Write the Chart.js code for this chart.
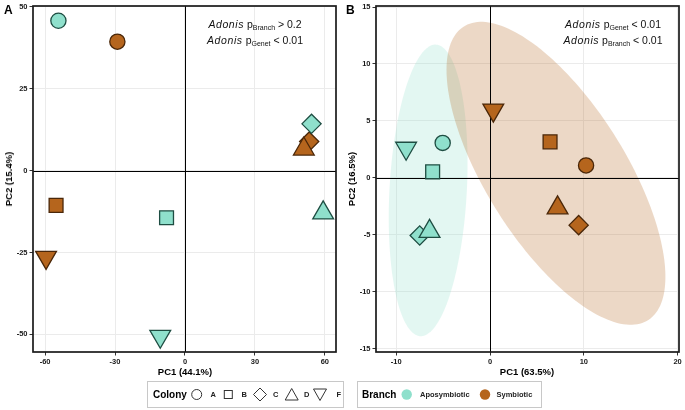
<!DOCTYPE html>
<html><head><meta charset="utf-8">
<script src="https://cdn.jsdelivr.net/npm/chart.js@4.4.1/dist/chart.umd.min.js"></script>
<style>
html,body{margin:0;padding:0;background:#fff;}
body{width:685px;height:410px;position:relative;overflow:hidden;font-family:"Liberation Sans",Arial,Helvetica,sans-serif;color:#000;}
canvas{position:absolute;top:0;}
#ca{left:0;}
#cb{left:340px;}
.abs{position:absolute;white-space:nowrap;}
.panel{font-weight:bold;font-size:12px;line-height:14px;}
.ann{font-size:10.5px;line-height:16px;transform:translateX(-50%);text-align:center;color:#111;}
.ann i{letter-spacing:0.6px;}
.ann sub{font-size:7px;vertical-align:-2px;line-height:0;}
.xt{font-weight:bold;font-size:9.5px;line-height:12px;transform:translateX(-50%);}
.yt{font-weight:bold;font-size:9.5px;line-height:12px;transform:translate(-50%,-50%) rotate(-90deg);}
.box{position:absolute;border:1px solid #c8c8c8;box-sizing:border-box;}
.lt{position:absolute;font-weight:bold;font-size:10px;line-height:12px;transform:translateY(-50%);}
.ls{position:absolute;font-weight:bold;font-size:7.5px;line-height:10px;transform:translateY(-50%);color:#222;}
svg.ico{position:absolute;overflow:visible;}
</style>
</head><body>
<canvas id="ca" width="340" height="385"></canvas>
<canvas id="cb" width="345" height="385"></canvas>

<div class="abs panel" style="left:4px;top:3px;">A</div>
<div class="abs panel" style="left:346px;top:3px;">B</div>

<div class="abs ann" style="left:255px;top:16px;"><i>Adonis</i> p<sub>Branch</sub> &gt; 0.2</div>
<div class="abs ann" style="left:255px;top:32px;"><i>Adonis</i> p<sub>Genet</sub> &lt; 0.01</div>
<div class="abs ann" style="left:613px;top:16px;"><i>Adonis</i> p<sub>Genet</sub> &lt; 0.01</div>
<div class="abs ann" style="left:613px;top:32px;"><i>Adonis</i> p<sub>Branch</sub> &lt; 0.01</div>

<div class="abs xt" style="left:185px;top:366px;">PC1 (44.1%)</div>
<div class="abs xt" style="left:527px;top:366px;">PC1 (63.5%)</div>
<div class="abs yt" style="left:8.5px;top:179px;">PC2 (15.4%)</div>
<div class="abs yt" style="left:352px;top:179px;">PC2 (16.5%)</div>

<div class="box" style="left:147px;top:381px;width:197px;height:27px;"></div>
<div class="lt" style="left:153px;top:394.5px;">Colony</div>
<svg class="ico" style="left:0;top:0;" width="685" height="410">
  <g fill="none" stroke="#333" stroke-width="1">
    <circle cx="196.7" cy="394.5" r="5"/>
    <rect x="224.3" y="390.5" width="8" height="8"/>
    <polygon points="260,388 266.5,394.5 260,401 253.5,394.5"/>
    <polygon points="291.7,388.5 298.2,400 285.2,400"/>
    <polygon points="320,400.5 326.5,389 313.5,389"/>
  </g>
  <circle cx="406.7" cy="394.5" r="5.2" fill="#8FE0CC"/>
  <circle cx="485" cy="394.5" r="5.2" fill="#B5651D"/>
</svg>
<div class="ls" style="left:210.5px;top:394.5px;">A</div>
<div class="ls" style="left:241.5px;top:394.5px;">B</div>
<div class="ls" style="left:273px;top:394.5px;">C</div>
<div class="ls" style="left:304px;top:394.5px;">D</div>
<div class="ls" style="left:336.5px;top:394.5px;">F</div>

<div class="box" style="left:357px;top:381px;width:185px;height:27px;"></div>
<div class="lt" style="left:362px;top:394.5px;">Branch</div>
<div class="ls" style="left:420px;top:394.5px;">Aposymbiotic</div>
<div class="ls" style="left:496.5px;top:394.5px;">Symbiotic</div>

<script>
// ---------------- DATA ----------------
const colonies = ['A', 'B', 'C', 'D', 'F'];
const branches = ['Aposymbiotic', 'Symbiotic'];

// Panel A : PC1 (44.1%) vs PC2 (15.4%)
const aPC1Apo = [-54.3, -7.9, 54.3, 59.3, -10.6];
const aPC2Apo = [45.8, -14.4, 14.3, -12.9, -50.6];
const aPC1Sym = [-29.0, -55.3, 53.3, 51.0, -59.6];
const aPC2Sym = [39.4, -10.6, 8.9, 6.6, -26.5];
const aXTicks = [-60, -30, 0, 30, 60];
const aYTicks = [-50, -25, 0, 25, 50];

// Panel B : PC1 (63.5%) vs PC2 (16.5%)
const bPC1Apo = [-5.05, -6.12, -7.5, -6.45, -8.95];
const bPC2Apo = [3.07, 0.53, -5.06, -4.7, 2.6];
const bPC1Sym = [10.24, 6.4, 9.45, 7.2, 0.35];
const bPC2Sym = [1.09, 3.16, -4.15, -2.63, 5.95];
const bXTicks = [-10, 0, 10, 20];
const bYTicks = [-15, -10, -5, 0, 5, 10, 15];

// Branch ellipses in panel B: [centre PC1, centre PC2, spread PC1, spread PC2, covariance]
const bEllipseApo = [-6.6, -1.1, 4.2, 12.8, 10.0];
const bEllipseSym = [7.03, 0.4, 11.67, 13.3, -106];

// ---------------- STYLE ----------------
const FONT = '"Liberation Sans", Arial, Helvetica, sans-serif';
const fillCol = { Aposymbiotic: '#8FE0CC', Symbiotic: '#B5651D' };
const edgeCol = { Aposymbiotic: '#1E4D42', Symbiotic: '#4A2709' };
const ellCol = { Aposymbiotic: 'rgba(143,224,204,0.25)', Symbiotic: 'rgba(181,101,29,0.25)' };
const shapeStyle = { A: 'circle', B: 'rect', C: 'rectRot', D: 'triangle', F: 'triangle' };
const shapeRot = { A: 0, B: 0, C: 0, D: 0, F: 180 };
const shapeRad = { A: 7.6, B: 9.8, C: 9.6, D: 12, F: 12 };

function pts(xs, ys) { return xs.map((x, i) => ({ x: x, y: ys[i] })); }

function dataset(branch, xs, ys) {
  return {
    label: branch,
    data: pts(xs, ys),
    pointStyle: colonies.map(c => shapeStyle[c]),
    rotation: colonies.map(c => shapeRot[c]),
    pointRadius: colonies.map(c => shapeRad[c]),
    pointHoverRadius: colonies.map(c => shapeRad[c]),
    backgroundColor: fillCol[branch],
    borderColor: edgeCol[branch],
    borderWidth: 1.3,
    showLine: false
  };
}

const decoPlugin = {
  id: 'deco',
  beforeDatasetsDraw(chart, args, opts) {
    const { ctx, chartArea: a, scales: { x, y } } = chart;
    ctx.save();
    ctx.beginPath();
    ctx.rect(a.left, a.top, a.right - a.left, a.bottom - a.top);
    ctx.clip();
    (opts.ellipses || []).forEach(e => {
      const p = e.params;
      const [cx, cy, sx, sy, cv] = p;
      const k = cv / sx;
      const m = Math.sqrt(Math.max(sy * sy - k * k, 0));
      ctx.beginPath();
      const N = 180;
      for (let i = 0; i <= N; i++) {
        const t = i / N * Math.PI * 2;
        const vx = cx + sx * Math.cos(t);
        const vy = cy + k * Math.cos(t) + m * Math.sin(t);
        const px = x.getPixelForValue(vx), py = y.getPixelForValue(vy);
        if (i === 0) ctx.moveTo(px, py); else ctx.lineTo(px, py);
      }
      ctx.closePath();
      ctx.fillStyle = e.color;
      ctx.fill();
    });
    // zero lines
    ctx.strokeStyle = '#000';
    ctx.lineWidth = 1;
    const x0 = Math.round(x.getPixelForValue(0)) + 0.5;
    const y0 = Math.round(y.getPixelForValue(0)) + 0.5;
    ctx.beginPath();
    ctx.moveTo(x0, a.top); ctx.lineTo(x0, a.bottom);
    ctx.moveTo(a.left, y0); ctx.lineTo(a.right, y0);
    ctx.stroke();
    ctx.restore();
  },
  afterDraw(chart) {
    const { ctx, chartArea: a } = chart;
    ctx.save();
    ctx.strokeStyle = '#1a1a1a';
    ctx.lineWidth = 1.7;
    ctx.strokeRect(a.left, a.top, a.right - a.left, a.bottom - a.top);
    ctx.restore();
  }
};

function axis(min, max, tickVals, fitProp, fitVal) {
  return {
    type: 'linear',
    min: min, max: max,
    afterBuildTicks: s => { s.ticks = tickVals.map(v => ({ value: v })); },
    afterFit: s => {
      s[fitProp] = fitVal;
      s.paddingTop = 0; s.paddingBottom = 0; s.paddingLeft = 0; s.paddingRight = 0;
    },
    grid: { color: '#EBEBEB', lineWidth: 1, drawTicks: true, tickLength: 3.5, tickColor: '#333', tickWidth: 1 },
    border: { display: false },
    ticks: { font: { family: FONT, size: 7.5, weight: 'bold' }, color: '#1a1a1a', padding: 2, maxRotation: 0, autoSkip: false }
  };
}

function makeChart(id, apoX, apoY, symX, symY, xr, yr, xt, yt, yw, padR, ellipses) {
  return new Chart(document.getElementById(id), {
    type: 'scatter',
    data: { datasets: [dataset('Aposymbiotic', apoX, apoY), dataset('Symbiotic', symX, symY)] },
    options: {
      responsive: false, animation: false, devicePixelRatio: 1,
      layout: { autoPadding: false, padding: { top: 6, right: padR, left: 0, bottom: 0 } },
      plugins: { legend: { display: false }, tooltip: { enabled: false }, deco: { ellipses: ellipses } },
      scales: {
        x: axis(xr[0], xr[1], xt, 'height', 33),
        y: axis(yr[0], yr[1], yt, 'width', yw)
      }
    },
    plugins: [decoPlugin]
  });
}

makeChart('ca', aPC1Apo, aPC2Apo, aPC1Sym, aPC2Sym, [-65.2, 64.8], [-55.4, 50.3], aXTicks, aYTicks, 33, 4, []);
makeChart('cb', bPC1Apo, bPC2Apo, bPC1Sym, bPC2Sym, [-12.16, 20.15], [-15.29, 15.09], bXTicks, bYTicks, 36, 6,
  [{ params: bEllipseApo, color: ellCol.Aposymbiotic }, { params: bEllipseSym, color: ellCol.Symbiotic }]);
</script>
</body></html>
